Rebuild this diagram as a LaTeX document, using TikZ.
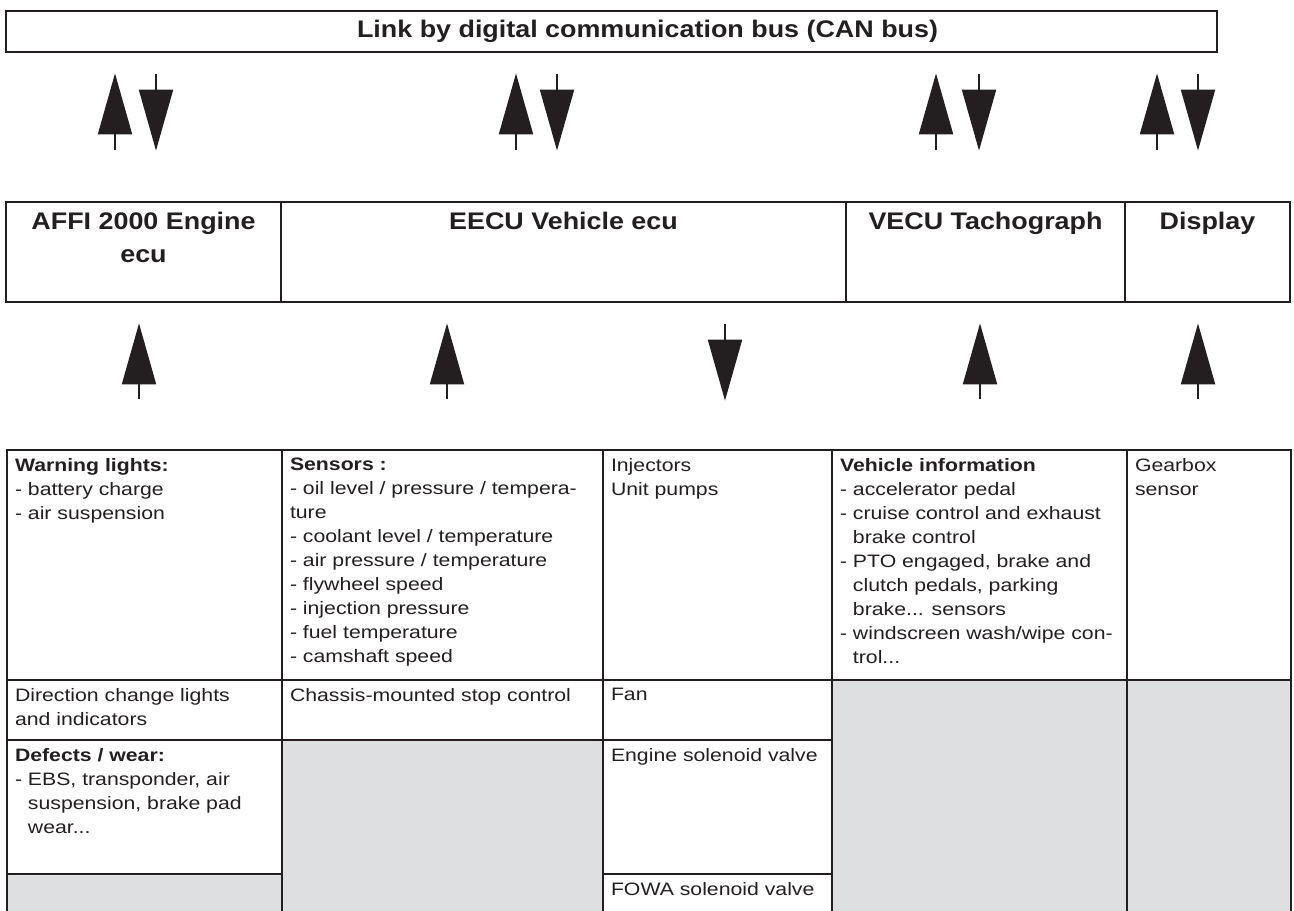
\documentclass[tikz,border=0pt]{standalone}
\usepackage{fontspec}
\setmainfont{Liberation Sans}
\newfontfamily\headfont[FakeStretch=1.12]{Liberation Sans}
\newfontfamily\bodyfont[FakeStretch=1.18]{Liberation Sans}
\usetikzlibrary{arrows.meta,fit,positioning}
\definecolor{busink}{RGB}{35,31,32}
\definecolor{cellgrey}{RGB}{222,223,225}

\begin{document}
\begin{tikzpicture}[x=0.5pt,y=-0.5pt,
    frame/.style={draw=busink,line width=1.4pt,inner sep=0pt},
    head/.style={font=\headfont\fontsize{12}{16.5}\selectfont\bfseries,text=busink,align=center,anchor=north,inner sep=5.5pt},
    txt/.style={font=\bodyfont\fontsize{9}{12}\selectfont,text=busink,align=left,anchor=north west,inner sep=4.5pt},
    uparr/.style={draw=busink,line width=1pt,-{Triangle[length=30.5pt,width=17pt]}}]
    \useasboundingbox (0,0) rectangle (1294,910);
    \clip (0,0) rectangle (1294,910);

    % CAN bus
    \node[frame,fit={(6,11) (1217,52)}] (bus) {};
    \node[font=\headfont\fontsize{12}{14}\selectfont\bfseries,text=busink] (busT) at ([xshift=18pt]bus.center) {Link by digital communication bus (CAN bus)};

    % ecus
    \node[frame,fit={(6,202) (281,302)}] (engine) {};
    \node[head] (engineT) at (engine.north) {AFFI 2000 Engine\\ecu};
    \node[frame,fit={(281,202) (846,302)}] (eecu) {};
    \node[head] (eecuT) at (eecu.north) {EECU Vehicle ecu};
    \node[frame,fit={(846,202) (1125,302)}] (vecu) {};
    \node[head] (vecuT) at (vecu.north) {VECU Tachograph};
    \node[frame,fit={(1125,202) (1290,302)}] (display) {};
    \node[head] (displayT) at (display.north) {Display};

    % inputs / outputs
    \node[frame,fit={(7,450) (282,680)}] (warn) {};
    \node[txt] (warnT) at (warn.north west) {\textbf{Warning lights:}\\- battery charge\\- air suspension};
    \node[frame,fit={(282,450) (603,680)}] (sens) {};
    \node[txt] (sensT) at (sens.north west) {\textbf{Sensors :}\\- oil level / pressure / tempera-\\ture\\- coolant level / temperature\\- air pressure / temperature\\- flywheel speed\\- injection pressure\\- fuel temperature\\- camshaft speed};
    \node[frame,fit={(603,450) (832,680)}] (inj) {};
    \node[txt] (injT) at (inj.north west) {Injectors\\Unit pumps};
    \node[frame,fit={(832,450) (1127,680)}] (vinfo) {};
    \node[txt] (vinfoT) at (vinfo.north west) {\textbf{Vehicle information}\\- accelerator pedal\\- cruise control and exhaust\\\hphantom{- }brake control\\- PTO engaged, brake and\\\hphantom{- }clutch pedals, parking\\\hphantom{- }brake... sensors\\- windscreen wash/wipe con-\\\hphantom{- }trol...};
    \node[frame,fit={(1127,450) (1291,680)}] (gear) {};
    \node[txt] (gearT) at (gear.north west) {Gearbox\\sensor};

    \node[frame,fit={(7,680) (282,740)}] (dir) {};
    \node[txt] (dirT) at (dir.north west) {Direction change lights\\and indicators};
    \node[frame,fit={(282,680) (603,740)}] (stop) {};
    \node[txt] (stopT) at (stop.north west) {Chassis-mounted stop control};
    \node[frame,fit={(603,680) (832,740)}] (fan) {};
    \node[txt] (fanT) at (fan.north west) {Fan};
    \node[frame,fill=cellgrey,fit={(832,680) (1127,940)}] (greyV) {};
    \node[frame,fill=cellgrey,fit={(1127,680) (1291,940)}] (greyD) {};

    \node[frame,fit={(7,740) (282,874)}] (defect) {};
    \node[txt] (defectT) at (defect.north west) {\textbf{Defects / wear:}\\- EBS, transponder, air\\\hphantom{- }suspension, brake pad\\\hphantom{- }wear...};
    \node[frame,fill=cellgrey,fit={(282,740) (603,940)}] (greyS) {};
    \node[frame,fit={(603,740) (832,874)}] (esv) {};
    \node[txt] (esvT) at (esv.north west) {Engine solenoid valve};

    \node[frame,fill=cellgrey,fit={(7,874) (282,940)}] (greyW) {};
    \node[frame,fit={(603,874) (832,940)}] (fowa) {};
    \node[txt] (fowaT) at (fowa.north west) {FOWA solenoid valve};

    % bus arrows
    \foreach \ux/\dx [count=\i] in {115/156,516/557,936/979,1157/1198} {
      \coordinate (tu\i) at (\ux,0);
      \coordinate (td\i) at (\dx,0);
      \draw[uparr,shorten <=25.5pt,shorten >=10pt] (tu\i |- engine.north) -- (tu\i |- bus.south);
      \draw[uparr,shorten <=10.5pt,shorten >=25pt] (td\i |- bus.south) -- (td\i |- engine.north);
    }

    % signal arrows
    \foreach \ux [count=\i] in {139,447,980,1198} {
      \coordinate (mu\i) at (\ux,0);
      \draw[uparr,shorten <=25pt,shorten >=10pt] (mu\i |- warn.north) -- (mu\i |- engine.south);
    }
    \coordinate (md1) at (725,0);
    \draw[uparr,shorten <=10.5pt,shorten >=24pt] (md1 |- engine.south) -- (md1 |- warn.north);
\end{tikzpicture}
\end{document}
